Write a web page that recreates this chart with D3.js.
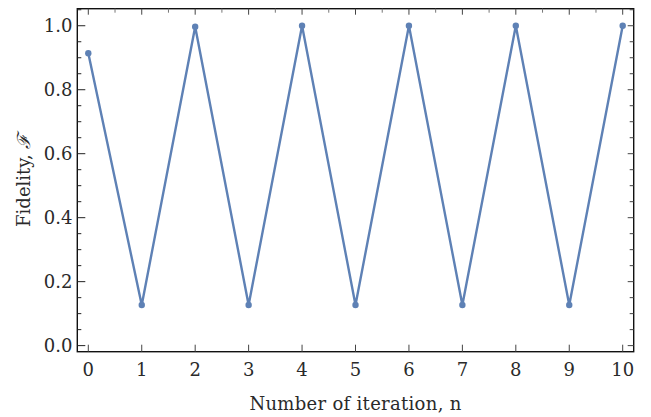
<!DOCTYPE html>
<html><head><meta charset="utf-8">
<script src="https://cdn.jsdelivr.net/npm/d3@7"></script>
<style>body{margin:0;background:#fff}svg{display:block}text{font-family:"DejaVu Serif",serif;fill:#2a2a2a}</style>
</head><body>
<svg id="c" width="651" height="417"></svg>
<script>
const iterations = [0,1,2,3,4,5,6,7,8,9,10];
const fidelity = [0.914,0.127,0.997,0.127,1.0,0.127,1.0,0.127,1.0,0.127,1.0];
const xTicks = [0,1,2,3,4,5,6,7,8,9,10];
const yTicks = [0.0,0.2,0.4,0.6,0.8,1.0];

const svg = d3.select("#c");
const L=77.3, R=633.7, T=8.7, B=351.7;
const x = d3.scaleLinear().domain([-0.206,10.206]).range([L,R]);
const y = d3.scaleLinear().domain([-0.019,1.0533]).range([B,T]);
const fs = 18;

// frame
svg.append("rect").attr("x",L).attr("y",T).attr("width",R-L).attr("height",B-T)
  .attr("fill","none").attr("stroke","#111").attr("stroke-width",1.4);

// ticks
const g = svg.append("g").attr("stroke","#222").attr("stroke-width",1);
const xMinor = d3.range(0,10.01,0.5);
const yMinor = d3.range(0,1.051,0.05);
xTicks.forEach(v=>g.append("line").attr("x1",x(v)).attr("x2",x(v)).attr("y1",B).attr("y2",B-7).attr("stroke","#444"));
xMinor.forEach(v=>{const maj=Math.abs(v-Math.round(v))<1e-6;
  g.append("line").attr("x1",x(v)).attr("x2",x(v)).attr("y1",T).attr("y2",T+(maj?6:4)).attr("stroke",maj?"#444":"#777");});
yMinor.forEach(v=>{const maj=Math.abs(v*5-Math.round(v*5))<1e-6;
  g.append("line").attr("x1",L).attr("x2",L+(maj?8:4)).attr("y1",y(v)).attr("y2",y(v));
  g.append("line").attr("x1",R).attr("x2",R-(maj?6:4)).attr("y1",y(v)).attr("y2",y(v)).attr("stroke","#444");});

// labels
svg.append("g").selectAll("text").data(xTicks).join("text")
  .attr("x",d=>x(d)).attr("y",376).attr("text-anchor","middle").attr("font-size",fs).text(d=>d);
svg.append("g").selectAll("text").data(yTicks).join("text")
  .attr("x",72.5).attr("y",d=>y(d)).attr("dy","0.36em").attr("text-anchor","end").attr("font-size",fs).text(d=>d.toFixed(1));

svg.append("text").attr("x",(L+R)/2).attr("y",410).attr("text-anchor","middle").attr("font-size",fs)
  .attr("letter-spacing",0.3).text("Number of iteration, n");
svg.append("text").attr("transform",`translate(30,${(T+B)/2}) rotate(-90)`).attr("text-anchor","middle").attr("font-size",fs)
  .text("Fidelity, ").append("tspan").attr("font-style","italic").text("ℱ");

// data
const line = d3.line().x((d,i)=>x(iterations[i])).y(d=>y(d));
svg.append("path").datum(fidelity).attr("d",line).attr("fill","none").attr("stroke","#5E81B5").attr("stroke-width",2.4).attr("stroke-linejoin","round");
svg.append("g").selectAll("circle").data(fidelity).join("circle")
  .attr("cx",(d,i)=>x(iterations[i])).attr("cy",d=>y(d)).attr("r",3.2).attr("fill","#5E81B5");
</script>
</body></html>
